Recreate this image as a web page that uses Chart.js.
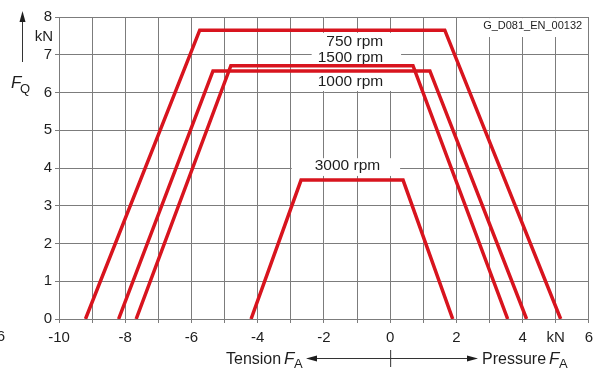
<!DOCTYPE html>
<html>
<head>
<meta charset="utf-8">
<script src="https://cdn.jsdelivr.net/npm/chart.js@4.4.1/dist/chart.umd.min.js"></script>
<style>
  html, body { margin: 0; padding: 0; background: #fff; }
  #wrap { width: 599px; height: 370px; }
</style>
</head>
<body>
<div id="wrap"><canvas id="chart" width="599" height="370"></canvas></div>
<script>
// Axial force F_A in kN (tension negative, pressure positive) vs permissible radial force F_Q in kN
const speedLabels = ["750 rpm", "1500 rpm", "1000 rpm", "3000 rpm"];
const axial750 = [-9.2, -5.75, 1.65, 5.15];
const radial750 = [0, 7.65, 7.65, 0];
const axial1500 = [-7.67, -4.81, 0.69, 3.55];
const radial1500 = [0, 6.71, 6.71, 0];
const axial1000 = [-8.2, -5.35, 1.2, 4.12];
const radial1000 = [0, 6.57, 6.57, 0];
const axial3000 = [-4.2, -2.69, 0.39, 1.89];
const radial3000 = [0, 3.68, 3.68, 0];

const xTickValues = [-10, -8, -6, -4, -2, 0, 2, 4, 5, 6];
const xTickLabels = ["-10", "-8", "-6", "-4", "-2", "0", "2", "4", "kN", "6"];
const yTickLabels = ["0", "1", "2", "3", "4", "5", "6", "7", "8"];
const drawingId = "G_D081_EN_00132";

const RED = "#d8141e";
const GRID = "#7c7c7c";
const TEXT = "#1e1e1e";
const FONT = "'Liberation Sans', Arial, sans-serif";

function toPoints(xs, ys) {
  return xs.map((x, i) => ({ x: x, y: ys[i] }));
}

const curves = [
  toPoints(axial750, radial750),
  toPoints(axial1500, radial1500),
  toPoints(axial1000, radial1000),
  toPoints(axial3000, radial3000)
];

// white boxes behind the speed labels, then the labels
const speedBoxes = {
  id: "speedBoxes",
  beforeDatasetsDraw(chart) {
    const { ctx, scales: { x, y } } = chart;
    ctx.save();
    ctx.fillStyle = "#fff";
    const box = (x0, x1, y0, y1) => {
      const px0 = x.getPixelForValue(x0), px1 = x.getPixelForValue(x1);
      const py0 = y.getPixelForValue(y1), py1 = y.getPixelForValue(y0);
      ctx.fillRect(px0, py0, px1 - px0, py1 - py0);
    };
    box(-2.37, 0.33, 6.04, 7.58);
    box(-2.97, 0.30, 3.79, 4.26);
    box(2.73, 5.95, 7.47, 7.97);

    ctx.fillStyle = TEXT;
    ctx.font = "15.5px " + FONT;
    ctx.textAlign = "right";
    ctx.textBaseline = "middle";
    ctx.fillText(speedLabels[0], x.getPixelForValue(-0.21), y.getPixelForValue(7.34));
    ctx.fillText(speedLabels[1], x.getPixelForValue(-0.21), y.getPixelForValue(6.93));
    ctx.fillText(speedLabels[2], x.getPixelForValue(-0.21), y.getPixelForValue(6.29));
    ctx.fillText(speedLabels[3], x.getPixelForValue(-0.30), y.getPixelForValue(4.05));

    ctx.font = "11px " + FONT;
    ctx.fillText(drawingId, x.getPixelForValue(5.8), y.getPixelForValue(7.76));
    ctx.restore();
  }
};

function arrowHead(ctx, tipX, tipY, dx, dy) {
  // dx, dy: unit direction the arrow points to
  const len = 11, half = 3;
  const bx = tipX - dx * len, by = tipY - dy * len;
  ctx.beginPath();
  ctx.moveTo(tipX, tipY);
  ctx.lineTo(bx - dy * half, by + dx * half);
  ctx.lineTo(bx + dy * half, by - dx * half);
  ctx.closePath();
  ctx.fill();
}

// axis titles with subscripts and arrows
const axisTitles = {
  id: "axisTitles",
  afterDraw(chart) {
    const { ctx, scales: { x, y } } = chart;
    const zero = x.getPixelForValue(0);
    ctx.save();
    ctx.fillStyle = TEXT;
    ctx.strokeStyle = "#333";
    ctx.lineWidth = 1;

    // unit under the top y tick
    ctx.font = "15px " + FONT;
    ctx.textAlign = "right";
    ctx.textBaseline = "middle";
    ctx.fillText("kN", 53, 37);

    // cut-off label of the neighbouring chart
    ctx.fillText("6", 5, 337);

    // F_Q with arrow
    ctx.beginPath();
    ctx.moveTo(22.5, 62);
    ctx.lineTo(22.5, 20);
    ctx.stroke();
    arrowHead(ctx, 22.5, 11, 0, -1);
    ctx.textAlign = "left";
    ctx.textBaseline = "alphabetic";
    ctx.font = "italic 17px " + FONT;
    ctx.fillText("F", 11, 88);
    ctx.font = "13px " + FONT;
    ctx.fillText("Q", 20, 93);

    // Tension / Pressure
    const ay = 358;
    ctx.beginPath();
    ctx.moveTo(312, ay + 0.5);
    ctx.lineTo(472, ay + 0.5);
    ctx.stroke();
    ctx.beginPath();
    ctx.moveTo(zero + 0.5, 350);
    ctx.lineTo(zero + 0.5, 367);
    ctx.stroke();
    arrowHead(ctx, 306, ay + 0.5, -1, 0);
    arrowHead(ctx, 478, ay + 0.5, 1, 0);

    ctx.font = "16px " + FONT;
    ctx.fillText("Tension", 226, 364);
    ctx.font = "italic 17px " + FONT;
    ctx.fillText("F", 284, 364);
    ctx.font = "13px " + FONT;
    ctx.fillText("A", 294, 368);

    ctx.font = "16px " + FONT;
    ctx.fillText("Pressure", 482, 364);
    ctx.font = "italic 17px " + FONT;
    ctx.fillText("F", 549, 364);
    ctx.font = "13px " + FONT;
    ctx.fillText("A", 559, 368);
    ctx.restore();
  }
};

new Chart(document.getElementById("chart").getContext("2d"), {
  type: "scatter",
  data: {
    datasets: curves.map((pts, i) => ({
      label: speedLabels[i],
      data: pts,
      showLine: true,
      borderColor: RED,
      backgroundColor: RED,
      borderWidth: 3.5,
      pointRadius: 0,
      tension: 0,
      fill: false
    }))
  },
  options: {
    responsive: false,
    animation: false,
    devicePixelRatio: 1,
    layout: { padding: { left: 0, top: 17, right: 7, bottom: 0 } },
    plugins: {
      legend: { display: false },
      tooltip: { enabled: false }
    },
    scales: {
      x: {
        type: "linear",
        min: -10,
        max: 6,
        afterFit: (scale) => { scale.height = 51; },
        ticks: {
          stepSize: 1,
          autoSkip: false,
          maxRotation: 0,
          padding: 6,
          color: TEXT,
          font: { family: FONT, size: 15 },
          callback: (v) => {
            const i = xTickValues.indexOf(v);
            return i >= 0 ? xTickLabels[i] : "";
          }
        },
        grid: { color: GRID, lineWidth: 1, tickLength: 4 },
        border: { color: GRID, width: 1 }
      },
      y: {
        min: 0,
        max: 8,
        afterFit: (scale) => { scale.width = 59; },
        ticks: {
          stepSize: 1,
          padding: 3,
          color: TEXT,
          font: { family: FONT, size: 15 },
          callback: (v) => yTickLabels[v] ?? ""
        },
        grid: { color: GRID, lineWidth: 1, tickLength: 4 },
        border: { color: GRID, width: 1 }
      }
    }
  },
  plugins: [speedBoxes, axisTitles]
});
</script>
</body>
</html>
